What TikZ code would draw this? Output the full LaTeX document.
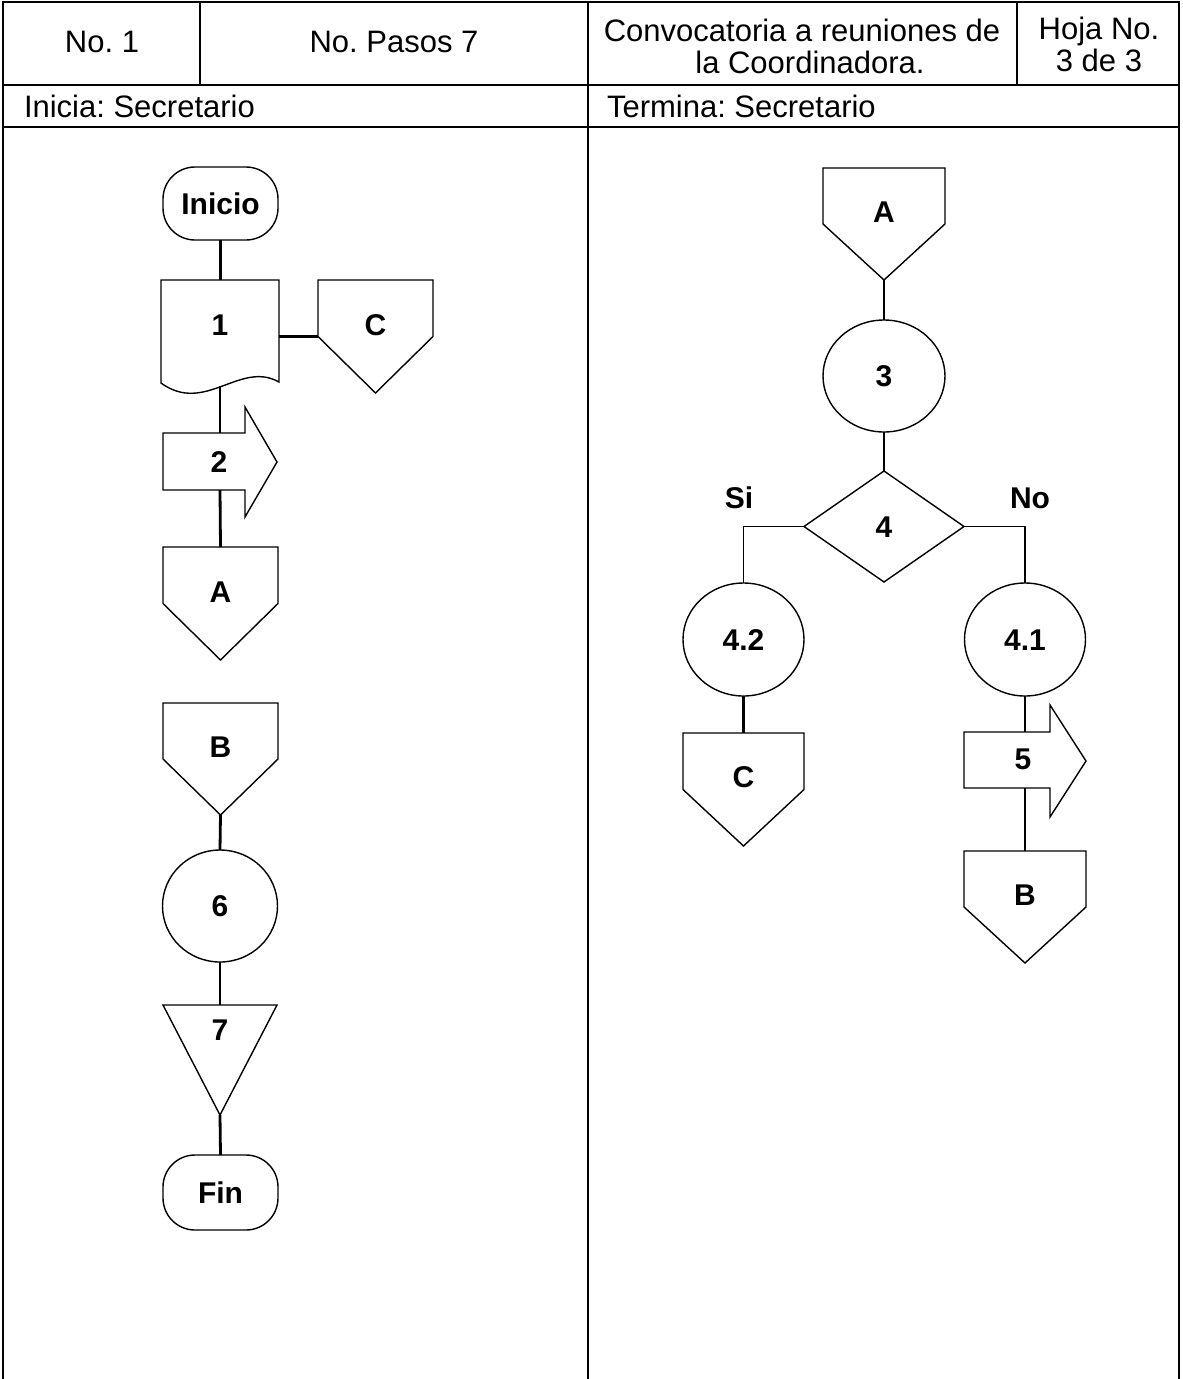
\documentclass[tikz,border=0pt]{standalone}
\usepackage{fontspec}
\setmainfont{Liberation Sans}
\usetikzlibrary{shapes.geometric,calc}
\begin{document}
\frenchspacing
\begin{tikzpicture}[x=1pt,y=-1pt,
  frame/.style={draw=black, line width=1.5pt},
  conn/.style={draw=black, line width=2.8pt},
  thin/.style={draw=black, line width=1.4pt},
  shp/.style={draw=black, line width=1.4pt},
  txt/.style={font=\fontsize{31}{32}\selectfont, inner sep=0pt, outer sep=0pt, text height=22pt, text depth=0pt},
  lbl/.style={font=\fontsize{30}{32}\selectfont\bfseries, inner sep=0pt, outer sep=0pt, text height=21.5pt, text depth=0pt},
  hold/.style={inner sep=0pt, outer sep=0pt},
]
\useasboundingbox (0,0) rectangle (1183,1379);
\fill[white] (0,0) rectangle (1183,1379);

% ---- table frame ----
\draw[frame] (3,1379) -- (3,2) -- (1179,2) -- (1179,1379);
\draw[frame] (3,85) -- (1179,85);
\draw[frame] (3,127) -- (1179,127);
\draw[frame] (200,2) -- (200,85);
\draw[frame] (588,2) -- (588,1379);
\draw[frame] (1017,2) -- (1017,85);

% ---- header texts ----
\node[txt] (h1) at (102,41) {No. 1};
\node[txt] (h2) at (394,41) {No. Pasos 7};
\node[txt] (h3a) at (802,30) {Convocatoria a reuniones de};
\node[txt] (h3b) at (810,62) {la Coordinadora.};
\node[txt] (h4a) at (1099,28) {Hoja No.};
\node[txt] (h4b) at (1099,60) {3 de 3};
\node[txt, anchor=west] (h5) at (24,106) {Inicia: Secretario};
\node[txt, anchor=west] (h6) at (607,106) {Termina: Secretario};

% ================= left column =================
\node[lbl, shp, rounded corners=32pt, minimum width=115pt, minimum height=73pt] (ini) at (220.5,203.5) {Inicio};

% document 1
\draw[shp] (161,280) -- (279,280) -- (279,382) .. controls (240,360) and (205,415) .. (161,383) -- cycle;
\node[lbl, minimum width=118pt, minimum height=90pt] (d1) at (220,325) {1};
\coordinate (d1b) at (220,386);

% off-page C
\node[hold, minimum width=115pt, minimum height=113pt] (c1) at (375.5,336.5) {};
\draw[shp] (c1.north west) -- (c1.north east) -- ($(c1.north east)!.5!(c1.south east)$) -- (c1.south) -- ($(c1.north west)!.5!(c1.south west)$) -- cycle;
\node[lbl] (c1t) at ($(c1.north)+(0,45)$) {C};

% arrow 2
\draw[shp] (163,433) -- (245,433) -- (245,407) -- (277,462) -- (245,517) -- (245,490) -- (163,490) -- cycle;
\node[lbl] (a2) at (219,462) {2};
\coordinate (a2top) at (220,433);
\coordinate (a2bot) at (220,490);

% off-page A
\node[hold, minimum width=115pt, minimum height=113pt] (A1) at (220.5,603.5) {};
\draw[shp] (A1.north west) -- (A1.north east) -- ($(A1.north east)!.5!(A1.south east)$) -- (A1.south) -- ($(A1.north west)!.5!(A1.south west)$) -- cycle;
\node[lbl] (A1t) at ($(A1.north)+(0,45)$) {A};

% off-page B
\node[hold, minimum width=115pt, minimum height=112pt] (B1) at (220.5,759) {};
\draw[shp] (B1.north west) -- (B1.north east) -- ($(B1.north east)!.5!(B1.south east)$) -- (B1.south) -- ($(B1.north west)!.5!(B1.south west)$) -- cycle;
\node[lbl] (B1t) at ($(B1.north)+(0,44)$) {B};

% operation 6
\node[lbl, shp, ellipse, minimum width=115pt, minimum height=112pt] (e6) at (220,906) {6};

% triangle 7
\node[hold, minimum width=114pt, minimum height=110pt] (t7) at (220,1060) {};
\draw[shp] (t7.north west) -- (t7.north east) -- (t7.south) -- cycle;
\node[lbl] (t7t) at ($(t7.north)+(0,25)$) {7};

% Fin
\node[lbl, shp, rounded corners=32pt, minimum width=115pt, minimum height=75pt] (fin) at (220.5,1192.5) {Fin};

% left connectors
\draw[conn] (ini.south) -- (ini.south |- d1.north);
\draw[conn] (d1.east |- c1.west) -- (c1.west);
\draw[conn] (d1b) -- (a2top);
\draw[conn] (a2bot) -- (A1.north);
\draw[conn] (B1.south) -- (e6.north);
\draw[conn] (e6.south) -- (t7.north);
\draw[conn] (t7.south) -- (fin.north);

% ================= right column =================
\node[hold, minimum width=122pt, minimum height=112pt] (A2) at (884,224) {};
\draw[shp] (A2.north west) -- (A2.north east) -- ($(A2.north east)!.5!(A2.south east)$) -- (A2.south) -- ($(A2.north west)!.5!(A2.south west)$) -- cycle;
\node[lbl] (A2t) at ($(A2.north)+(0,44)$) {A};

\node[lbl, shp, ellipse, minimum width=122pt, minimum height=112pt] (e3) at (884,376) {3};

\node[lbl, shp, diamond, aspect=1.44, minimum width=160pt, minimum height=111pt] (d4) at (884,526.5) {4};
\node[lbl] (si) at (739,498) {Si};
\node[lbl] (no) at (1030,498) {No};

\node[lbl, shp, ellipse, minimum width=121pt, minimum height=113pt] (e42) at (743.5,639.5) {4.2};
\node[lbl, shp, ellipse, minimum width=121pt, minimum height=113pt] (e41) at (1025,639.5) {4.1};

\node[hold, minimum width=121pt, minimum height=113pt] (C2) at (743.5,789.5) {};
\draw[shp] (C2.north west) -- (C2.north east) -- ($(C2.north east)!.5!(C2.south east)$) -- (C2.south) -- ($(C2.north west)!.5!(C2.south west)$) -- cycle;
\node[lbl] (C2t) at ($(C2.north)+(0,44)$) {C};

% arrow 5
\draw[shp] (964,732) -- (1050,732) -- (1050,705) -- (1086,761) -- (1050,817) -- (1050,788) -- (964,788) -- cycle;
\node[lbl] (a5) at (1023,759) {5};
\coordinate (a5top) at (1025,732);
\coordinate (a5bot) at (1025,788);

\node[hold, minimum width=122pt, minimum height=112pt] (B2) at (1025,907) {};
\draw[shp] (B2.north west) -- (B2.north east) -- ($(B2.north east)!.5!(B2.south east)$) -- (B2.south) -- ($(B2.north west)!.5!(B2.south west)$) -- cycle;
\node[lbl] (B2t) at ($(B2.north)+(0,44)$) {B};

% right connectors
\draw[conn] (A2.south) -- (e3.north);
\draw[conn] (e3.south) -- (d4.north);
\draw[thin] (d4.west) -- (d4.west -| e42.north) -- (e42.north);
\draw[thin] (d4.east) -- (d4.east -| e41.north) -- (e41.north);
\draw[conn] (e42.south) -- (C2.north);
\draw[conn] (e41.south) -- (a5top);
\draw[conn] (a5bot) -- (B2.north);
\end{tikzpicture}
\end{document}
